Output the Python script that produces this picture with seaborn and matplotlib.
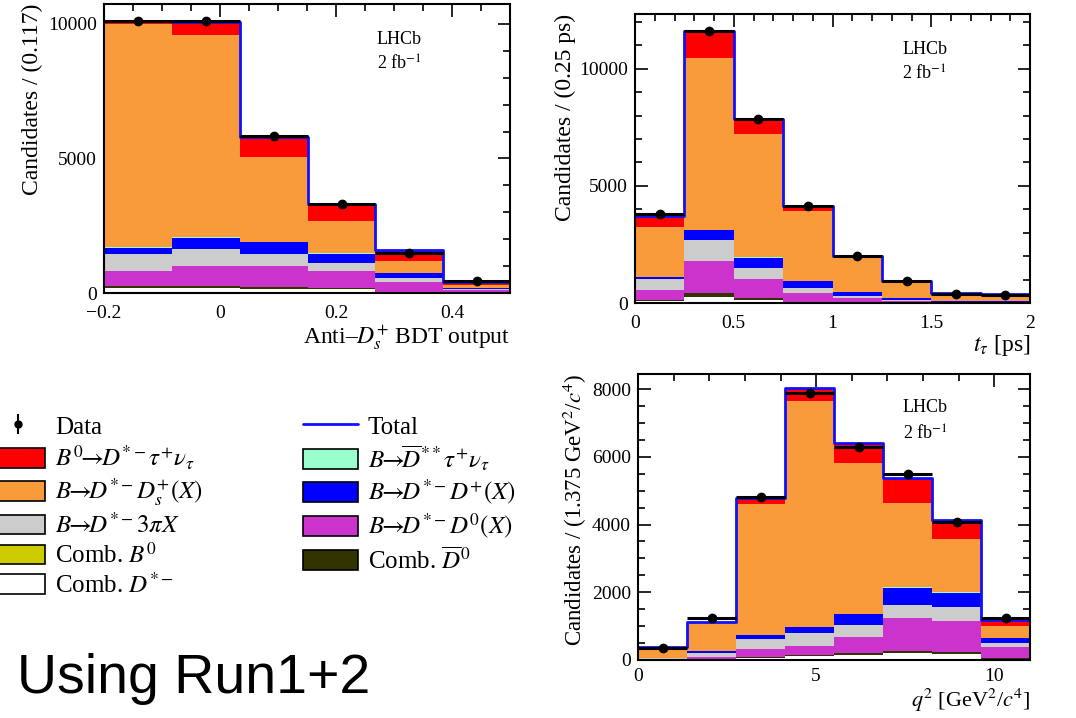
import numpy as np
import pandas as pd
import matplotlib
matplotlib.use("Agg")
import matplotlib.pyplot as plt
import seaborn as sns
from matplotlib.ticker import MultipleLocator, FuncFormatter
from matplotlib.patches import Patch
from matplotlib.lines import Line2D

# ---------------- components (stack order: top -> bottom) ----------------
comp_names = ["sig", "dsx", "dss", "dpx", "3pi", "d0x", "combD", "combB", "combDst"]
comp_colors = ["#FF0000", "#F99B3A", "#99FFCC", "#0000FF", "#CCCCCC",
               "#CC33CC", "#333300", "#CCCC00", "#FFFFFF"]
ARR = r"\!\!\rightarrow\!\!"
comp_labels = [r"$B^0" + ARR + r"D^{*-}\tau^{+}\nu_{\tau}$",
               r"$B" + ARR + r"D^{*-}D_s^{+}(X)$",
               r"$B" + ARR + r"\overline{D}^{**}\tau^{+}\nu_{\tau}$",
               r"$B" + ARR + r"D^{*-}D^{+}(X)$",
               r"$B" + ARR + r"D^{*-}3\pi X$",
               r"$B" + ARR + r"D^{*-}D^{0}(X)$",
               r"Comb. $\overline{D}^{0}$",
               r"Comb. $B^{0}$",
               r"Comb. $D^{*-}$"]

# ---------------- panel 1: anti-Ds BDT output ----------------
bdt_edges = [-0.2, -0.083, 0.034, 0.151, 0.268, 0.385, 0.502]
bdt_sig = [120, 490, 738, 620, 400, 140]
bdt_dsx = [8300, 7520, 3166, 1206, 430, 85]
bdt_dss = [10, 10, 10, 10, 5, 5]
bdt_dpx = [225, 410, 446, 347, 175, 50]
bdt_3pi = [645, 660, 423, 298, 160, 40]
bdt_d0x = [570, 730, 794, 619, 370, 90]
bdt_combD = [80, 80, 63, 60, 10, 5]
bdt_combB = [0, 0, 0, 0, 0, 0]
bdt_combDst = [170, 180, 160, 140, 30, 10]
bdt_data = [10100, 10100, 5830, 3300, 1500, 434]

# ---------------- panel 2: tau decay time ----------------
tau_edges = [0.0, 0.25, 0.5, 0.75, 1.0, 1.25, 1.5, 1.75, 2.0]
tau_sig = [472, 1158, 614, 198, 40, 20, 10, 10]
tau_dsx = [2127, 7322, 5289, 3001, 1495, 693, 327, 294]
tau_dss = [10, 15, 10, 5, 5, 3, 2, 2]
tau_dpx = [85, 427, 427, 271, 170, 85, 35, 40]
tau_3pi = [485, 883, 470, 228, 90, 50, 20, 20]
tau_d0x = [399, 1368, 826, 384, 170, 60, 25, 25]
tau_combD = [72, 171, 74, 23, 30, 10, 5, 5]
tau_combB = [0, 0, 0, 0, 0, 0, 0, 0]
tau_combDst = [70, 256, 140, 20, 10, 5, 3, 3]
tau_data = [3818, 11624, 7877, 4131, 2009, 926, 399, 342]

# ---------------- panel 3: q^2 ----------------
q2_edges = [0.0, 1.375, 2.75, 4.125, 5.5, 6.875, 8.25, 9.625, 11.0]
q2_sig = [14, 0, 185, 374, 594, 736, 568, 157]
q2_dsx = [310, 860, 3857, 6682, 4438, 2499, 1574, 368]
q2_dss = [0, 5, 10, 10, 10, 10, 10, 5]
q2_dpx = [5, 50, 118, 157, 325, 511, 414, 128]
q2_3pi = [15, 118, 305, 384, 364, 394, 413, 138]
q2_d0x = [15, 68, 217, 275, 453, 964, 925, 305]
q2_combD = [5, 10, 38, 38, 56, 66, 66, 49]
q2_combB = [0, 0, 0, 0, 0, 0, 0, 0]
q2_combDst = [10, 20, 60, 110, 160, 200, 170, 20]
q2_data = [364, 1250, 4802, 7872, 6298, 5481, 4073, 1230]

# ---------------- style ----------------
sns.set_theme(style="ticks")
plt.rcParams["font.family"] = ["Liberation Serif", "DejaVu Serif"]
plt.rcParams["mathtext.fontset"] = "stix"
plt.rcParams["axes.unicode_minus"] = True
plt.rcParams["text.color"] = "black"
plt.rcParams["axes.labelcolor"] = "black"
plt.rcParams["xtick.color"] = "black"
plt.rcParams["ytick.color"] = "black"

W, H = 1076, 718
fig = plt.figure(figsize=(W / 100, H / 100), dpi=100)
fig.patch.set_facecolor("white")


def px_axes(left, top, right, bottom):
    return fig.add_axes([left / W, 1 - bottom / H, (right - left) / W, (bottom - top) / H])


def draw_panel(ax, edges, comps, data):
    edges = [float(e) for e in edges]
    e = np.asarray(edges)
    centers = (e[:-1] + e[1:]) / 2
    half = (e[1:] - e[:-1]) / 2
    rows = []
    for name, vals in zip(comp_names, comps):
        for c, v in zip(centers, vals):
            rows.append((float(c), float(v), name))
    df = pd.DataFrame(rows, columns=["x", "w", "comp"])
    sns.histplot(data=df, x="x", weights="w", hue="comp", hue_order=comp_names,
                 palette=dict(zip(comp_names, comp_colors)), multiple="stack",
                 bins=edges, element="step", fill=True, linewidth=0, alpha=1,
                 legend=False, ax=ax)
    total = np.sum(np.asarray(comps, dtype=float), axis=0)
    tdf = pd.DataFrame({"x": centers, "w": total})
    sns.histplot(data=tdf, x="x", weights="w", bins=edges, element="step", fill=False,
                 color="#1010FF", linewidth=2.0, ax=ax)
    ax.errorbar(centers, data, xerr=half, fmt="o", color="black", ms=6,
                elinewidth=2.2, capsize=0, zorder=10)


def style_axes(ax, xlim, ylim, xmaj, xmin, ymaj, ymin, xpad=8.5):
    ax.set_xlim(*xlim)
    ax.set_ylim(*ylim)
    ax.xaxis.set_major_locator(MultipleLocator(xmaj))
    ax.xaxis.set_minor_locator(MultipleLocator(xmin))
    ax.yaxis.set_major_locator(MultipleLocator(ymaj))
    ax.yaxis.set_minor_locator(MultipleLocator(ymin))
    ax.xaxis.set_major_formatter(FuncFormatter(
        lambda v, p: ("%g" % round(v, 6)).replace("-", "\u2212")))
    ax.yaxis.set_major_formatter(FuncFormatter(lambda v, p: "%d" % round(v)))
    ax.tick_params(which="both", direction="in", top=True, right=True,
                   labelsize=14, colors="black", width=1.2)
    ax.tick_params(axis="x", which="both", pad=xpad)
    ax.tick_params(axis="y", which="both", pad=5)
    ax.tick_params(which="major", length=9)
    ax.tick_params(which="minor", length=5)
    for s in ax.spines.values():
        s.set_linewidth(1.5)
        s.set_color("black")
    ax.set_facecolor("white")


def lhcb(ax, x, y1, y2):
    ax.text(x, y1, "LHCb", transform=ax.transAxes, fontsize=13, va="center", ha="left")
    ax.text(x, y2, r"2 fb$^{-1}$", transform=ax.transAxes, fontsize=13, va="center", ha="left")


# panel 1
ax1 = px_axes(104, 4, 510, 293)
draw_panel(ax1, bdt_edges,
           [bdt_sig, bdt_dsx, bdt_dss, bdt_dpx, bdt_3pi, bdt_d0x, bdt_combD, bdt_combB, bdt_combDst],
           bdt_data)
style_axes(ax1, (-0.2, 0.5), (0, 10740), 0.2, 0.05, 5000, 1000)
ax1.set_xlabel(r"Anti–$D_s^{+}$ BDT output", fontsize=17, loc="right", labelpad=1)
ax1.set_ylabel("Candidates / (0.117)", fontsize=17, loc="top", labelpad=4)
lhcb(ax1, 0.672, 0.878, 0.790)

# panel 2
ax2 = px_axes(635, 14, 1030, 303)
draw_panel(ax2, tau_edges,
           [tau_sig, tau_dsx, tau_dss, tau_dpx, tau_3pi, tau_d0x, tau_combD, tau_combB, tau_combDst],
           tau_data)
style_axes(ax2, (0, 2), (0, 12340), 0.5, 0.1, 5000, 1000)
ax2.set_xlabel(r"$t_{\tau}$ [ps]", fontsize=17, loc="right", labelpad=1)
ax2.set_ylabel("Candidates / (0.25 ps)", fontsize=17, loc="top", labelpad=2)
lhcb(ax2, 0.676, 0.878, 0.790)

# panel 3
ax3 = px_axes(638, 374, 1030, 660)
draw_panel(ax3, q2_edges,
           [q2_sig, q2_dsx, q2_dss, q2_dpx, q2_3pi, q2_d0x, q2_combD, q2_combB, q2_combDst],
           q2_data)
style_axes(ax3, (0, 11), (0, 8443), 5, 1, 2000, 500, xpad=6.0)
ax3.set_xlabel(r"$q^{2}$ [GeV$^{2}$/$c^{4}$]", fontsize=16, loc="right", labelpad=0.5)
ax3.set_ylabel(r"Candidates / (1.375 GeV$^{2}$/$c^{4}$)", fontsize=16.5, loc="top", labelpad=2)
lhcb(ax3, 0.676, 0.882, 0.790)

# ---------------- legend ----------------
col = dict(zip(comp_names, comp_colors))
lab = dict(zip(comp_names, comp_labels))
data_handle = (Line2D([0], [0], marker="o", color="black", ls="", ms=5),
               Line2D([0], [0], marker="|", color="black", ls="", ms=14, mew=1.5))
left_names = ["sig", "dsx", "3pi", "combB", "combDst"]
right_names = ["dss", "dpx", "d0x", "combD"]

left_handles = [data_handle] + [Patch(facecolor=col[n], edgecolor="black", linewidth=1.2) for n in left_names]
left_labels = ["Data"] + [lab[n] for n in left_names]
right_handles = [Line2D([0], [0], color="#1010FF", lw=2)] + \
    [Patch(facecolor=col[n], edgecolor="black", linewidth=1.2) for n in right_names]
right_labels = ["Total"] + [lab[n] for n in right_names]

leg_kw = dict(loc="upper left", frameon=False, fontsize=18, handlelength=2.2,
              handleheight=0.84, handletextpad=0.4, labelspacing=0.2,
              borderpad=0, borderaxespad=0, labelcolor="black")
fig.legend(left_handles, left_labels, bbox_to_anchor=(-10 / W, 1 - 415 / H), **leg_kw)
fig.legend(right_handles, right_labels, bbox_to_anchor=(303 / W, 1 - 415 / H), **leg_kw)

fig.text(17 / W, 1 - 693 / H, "Using Run1+2", fontsize=40, family="Liberation Sans",
         color="black", ha="left", va="baseline")

fig.savefig("out.png", dpi=100, facecolor="white")
